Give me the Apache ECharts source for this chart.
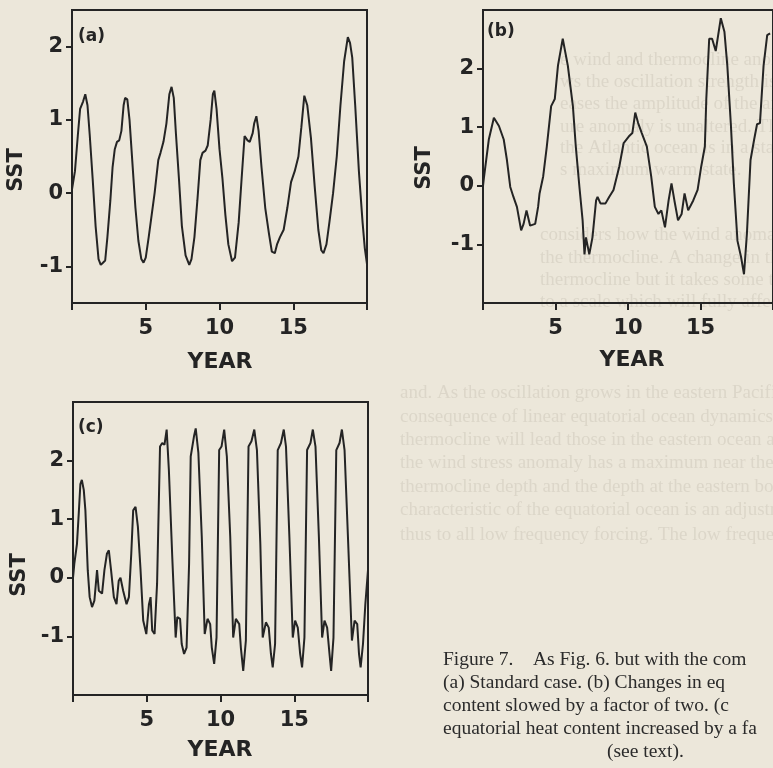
<!DOCTYPE html>
<html><head><meta charset="utf-8">
<script src="https://cdn.jsdelivr.net/npm/echarts@6/dist/echarts.min.js"></script>
<style>html,body{margin:0;padding:0;background:#ece7da;overflow:hidden}#c{width:773px;height:768px}</style>
</head><body><div id="c"></div><script>
// ---- data (year, SST anomaly) ----
var panelA = [[0,0.05],[0.2,0.3],[0.4,0.8],[0.55,1.15],[0.75,1.25],[0.9,1.35],[1.05,1.2],[1.2,0.8],[1.4,0.2],[1.6,-0.45],[1.8,-0.9],[1.95,-0.98],[2.1,-0.95],[2.25,-0.92],[2.4,-0.6],[2.6,-0.1],[2.75,0.35],[2.9,0.6],[3.05,0.7],[3.2,0.72],[3.35,0.85],[3.5,1.2],[3.6,1.3],[3.75,1.28],[3.9,1.0],[4.1,0.4],[4.3,-0.2],[4.5,-0.65],[4.7,-0.9],[4.85,-0.95],[5.0,-0.88],[5.2,-0.6],[5.4,-0.3],[5.6,0.0],[5.85,0.45],[6.0,0.55],[6.2,0.7],[6.4,0.95],[6.6,1.35],[6.75,1.45],[6.9,1.3],[7.05,0.8],[7.25,0.2],[7.45,-0.45],[7.7,-0.85],[7.95,-0.98],[8.1,-0.9],[8.3,-0.6],[8.5,-0.1],[8.7,0.45],[8.85,0.55],[9.05,0.58],[9.2,0.65],[9.4,1.0],[9.55,1.35],[9.65,1.4],[9.8,1.15],[10.0,0.6],[10.2,0.2],[10.4,-0.3],[10.6,-0.7],[10.85,-0.93],[11.05,-0.88],[11.3,-0.4],[11.5,0.2],[11.7,0.78],[11.9,0.72],[12.05,0.7],[12.25,0.82],[12.35,0.95],[12.5,1.05],[12.65,0.85],[12.85,0.35],[13.1,-0.2],[13.35,-0.55],[13.55,-0.8],[13.75,-0.82],[13.9,-0.7],[14.1,-0.6],[14.35,-0.5],[14.6,-0.2],[14.85,0.15],[15.1,0.3],[15.35,0.5],[15.55,0.9],[15.75,1.33],[15.95,1.2],[16.2,0.75],[16.45,0.1],[16.7,-0.5],[16.9,-0.78],[17.05,-0.82],[17.25,-0.7],[17.45,-0.4],[17.7,0.0],[17.95,0.5],[18.2,1.2],[18.45,1.8],[18.7,2.13],[18.85,2.05],[19.0,1.85],[19.2,1.2],[19.45,0.3],[19.7,-0.4],[19.85,-0.75],[20.0,-0.97]];

var panelB = [[0,0.0],[0.07,0.15],[0.4,0.79],[0.75,1.16],[1.1,1.02],[1.43,0.79],[1.65,0.44],[1.88,-0.02],[2.1,-0.19],[2.34,-0.36],[2.63,-0.76],[2.8,-0.65],[3.0,-0.42],[3.25,-0.68],[3.6,-0.65],[3.8,-0.36],[3.9,-0.13],[4.15,0.16],[4.4,0.67],[4.7,1.36],[4.95,1.48],[5.17,2.05],[5.5,2.51],[5.85,2.05],[6.2,1.36],[6.4,0.67],[6.65,-0.02],[6.87,-0.59],[7.0,-1.17],[7.1,-0.88],[7.33,-1.17],[7.55,-0.88],[7.8,-0.25],[7.9,-0.19],[8.1,-0.3],[8.45,-0.3],[8.7,-0.19],[9.0,-0.07],[9.4,0.33],[9.7,0.73],[10.05,0.84],[10.3,0.9],[10.5,1.25],[10.7,1.07],[10.95,0.9],[11.3,0.67],[11.6,0.16],[11.85,-0.36],[12.1,-0.48],[12.3,-0.42],[12.55,-0.71],[12.8,-0.25],[13.0,0.04],[13.2,-0.25],[13.45,-0.59],[13.7,-0.48],[13.9,-0.13],[14.15,-0.42],[14.5,-0.25],[14.8,-0.07],[15.05,0.33],[15.3,0.67],[15.4,1.48],[15.6,2.51],[15.8,2.51],[16.05,2.3],[16.4,2.86],[16.65,2.63],[16.85,2.05],[17.1,1.02],[17.3,0.04],[17.55,-0.94],[17.8,-1.22],[18.0,-1.51],[18.2,-0.82],[18.45,0.44],[18.7,0.79],[18.9,1.05],[19.1,1.07],[19.35,2.05],[19.6,2.57],[19.8,2.6]];

var panelC = [[0,0.0],[0.09,0.24],[0.27,0.58],[0.39,1.1],[0.5,1.6],[0.6,1.67],[0.73,1.5],[0.84,1.15],[1.0,0.13],[1.13,-0.33],[1.29,-0.5],[1.45,-0.39],[1.63,0.13],[1.75,-0.22],[1.97,-0.27],[2.13,0.13],[2.3,0.41],[2.43,0.47],[2.58,0.13],[2.77,-0.33],[2.95,-0.45],[3.1,-0.05],[3.22,0.0],[3.4,-0.22],[3.63,-0.45],[3.79,-0.33],[3.95,0.41],[4.08,1.15],[4.24,1.21],[4.4,0.87],[4.58,0.13],[4.76,-0.73],[4.97,-0.96],[5.15,-0.45],[5.26,-0.33],[5.37,-0.9],[5.53,-0.96],[5.7,-0.1],[5.9,2.24],[6.05,2.3],[6.2,2.27],[6.35,2.53],[6.5,1.84],[6.73,0.35],[6.96,-1.02],[7.07,-0.67],[7.26,-0.7],[7.37,-1.13],[7.53,-1.3],[7.7,-1.19],[7.87,0.24],[7.98,2.07],[8.2,2.41],[8.32,2.55],[8.5,2.13],[8.73,0.7],[8.93,-0.96],[9.12,-0.7],[9.3,-0.79],[9.41,-1.19],[9.57,-1.47],[9.73,-1.02],[9.91,2.18],[10.07,2.24],[10.25,2.53],[10.43,2.07],[10.66,0.7],[10.86,-1.02],[11.04,-0.7],[11.27,-0.79],[11.38,-1.19],[11.54,-1.59],[11.72,-1.07],[11.9,2.24],[12.1,2.33],[12.29,2.53],[12.47,2.18],[12.7,0.58],[12.86,-1.02],[13.08,-0.76],[13.27,-0.85],[13.42,-1.3],[13.54,-1.53],[13.7,-1.13],[13.88,2.18],[14.1,2.3],[14.29,2.53],[14.44,2.24],[14.67,0.7],[14.9,-1.02],[15.06,-0.73],[15.24,-0.85],[15.4,-1.3],[15.53,-1.53],[15.69,-1.02],[15.87,2.18],[16.1,2.3],[16.26,2.53],[16.44,2.24],[16.67,0.7],[16.89,-1.02],[17.05,-0.73],[17.23,-0.85],[17.39,-1.3],[17.5,-1.59],[17.66,-1.02],[17.85,2.18],[18.07,2.3],[18.23,2.53],[18.41,2.18],[18.64,0.7],[18.91,-1.07],[19.09,-0.73],[19.27,-0.79],[19.39,-1.3],[19.5,-1.53],[19.66,-1.13],[19.82,-0.45],[20.0,0.13]];

var xTickValues = [0, 5, 10, 15, 20];
var xLabelValues = [5, 10, 15];
var yTickValues = [-1, 0, 1, 2];
var panelLabels = ['(a)', '(b)', '(c)'];
var captionLines = ['Figure 7.    As Fig. 6. but with the com', '(a) Standard case. (b) Changes in eq', 'content slowed by a factor of two. (c', 'equatorial heat content increased by a fa', '(see text).'];

var ink = '#242424';
var sans = 'DejaVu Sans';
var chart = echarts.init(document.getElementById('c'), null, {renderer: 'canvas'});

var grids = [
  {left: 72, top: 10, width: 295, height: 293},
  {left: 483, top: 10, width: 294, height: 293},
  {left: 73, top: 402, width: 295, height: 293}
].map(function (g) {
  return Object.assign({show: true, borderColor: ink, borderWidth: 2, backgroundColor: 'transparent', containLabel: false}, g);
});

function xAx(i) {
  return {type: 'value', gridIndex: i, min: 0, max: 20,
    axisLine: {show: true, onZero: false, lineStyle: {color: ink, width: 2}},
    axisTick: {show: true, length: 7, customValues: xTickValues, lineStyle: {color: ink, width: 2}},
    axisLabel: {customValues: xLabelValues, color: ink, fontSize: 21, fontWeight: 'bold', fontFamily: sans, margin: 15},
    splitLine: {show: false}};
}
function yAx(i, mn, mx) {
  return {type: 'value', gridIndex: i, min: mn, max: mx,
    axisLine: {show: true, onZero: false, lineStyle: {color: ink, width: 2}},
    axisTick: {show: true, length: 6, customValues: yTickValues, lineStyle: {color: ink, width: 2}},
    axisLabel: {customValues: yTickValues, color: ink, fontSize: 21, fontWeight: 'bold', fontFamily: sans, margin: 9},
    splitLine: {show: false}};
}
function ser(i, d) {
  return {type: 'line', xAxisIndex: i, yAxisIndex: i, data: d, showSymbol: false, symbol: 'none',
    lineStyle: {color: ink, width: 2}, animation: false, silent: true};
}

var faint = 'rgba(90,80,60,0.11)';
var bgLines = [
  [560, 60, 'e wind and thermocline anomalies are not precisely in phase ap'],
  [560, 82, 'ws the oscillation strength is high if the phase the positive feedb'],
  [560, 104, 'eases the amplitude of the anomalies. The lifetime of F'],
  [560, 127, 'ure anomaly is unaltered. The oscillation and the anomalies'],
  [560, 148, 'the Atlantic ocean is in a state of ventilation and the'],
  [560, 170, 's maximum warm state.'],
  [540, 235, 'considers how the wind anomaly is generated, it is plausible tha'],
  [540, 258, 'the thermocline. A change in thermocline depth changes the te'],
  [540, 280, 'thermocline but it takes some time for the ocean to spread the effec'],
  [540, 302, 'to a scale which will fully affect the atmosphere.'],
  [400, 393, 'and. As the oscillation grows in the eastern Pacific the westerly win'],
  [400, 417, 'consequence of linear equatorial ocean dynamics is that the'],
  [400, 440, 'thermocline will lead those in the eastern ocean as the anomalies'],
  [400, 463, 'the wind stress anomaly has a maximum near the equator'],
  [400, 487, 'thermocline depth and the depth at the eastern boundary are'],
  [400, 510, 'characteristic of the equatorial ocean is an adjustment period'],
  [400, 535, 'thus to all low frequency forcing. The low frequency regime is']
];

var graphic = [];
bgLines.forEach(function (l) {
  graphic.push({type: 'text', x: l[0], y: l[1], z: -10, silent: true,
    style: {text: l[2], fill: faint, font: '19px "Liberation Serif"', verticalAlign: 'middle'}});
});
// axis titles
[[17, 170], [425, 168], [20, 575]].forEach(function (p) {
  graphic.push({type: 'text', x: p[0], y: p[1], rotation: Math.PI / 2, silent: true,
    style: {text: 'SST', fill: ink, font: 'bold 21px "DejaVu Sans"', align: 'center', verticalAlign: 'middle'}});
});
[[220, 362], [632, 360], [220, 750]].forEach(function (p) {
  graphic.push({type: 'text', x: p[0], y: p[1], silent: true,
    style: {text: 'YEAR', fill: ink, font: 'bold 22px "DejaVu Sans"', align: 'center', verticalAlign: 'middle'}});
});
[[78, 37], [487, 32], [78, 428]].forEach(function (p, i) {
  graphic.push({type: 'text', x: p[0], y: p[1], silent: true,
    style: {text: panelLabels[i], fill: ink, font: 'bold 17px "DejaVu Sans"', verticalAlign: 'middle'}});
});
// caption
var capPos = [[443, 660], [443, 683], [443, 706], [443, 729], [607, 752]];
captionLines.forEach(function (t, i) {
  graphic.push({type: 'text', x: capPos[i][0], y: capPos[i][1], silent: true,
    style: {text: t, fill: '#2b2b2b', font: '19.5px "Liberation Serif"', verticalAlign: 'middle'}});
});

chart.setOption({
  backgroundColor: '#ece7da',
  animation: false,
  grid: grids,
  xAxis: [xAx(0), xAx(1), xAx(2)],
  yAxis: [yAx(0, -1.5, 2.5), yAx(1, -2, 3), yAx(2, -2, 3)],
  series: [ser(0, panelA), ser(1, panelB), ser(2, panelC)],
  graphic: graphic
});
</script></body></html>
